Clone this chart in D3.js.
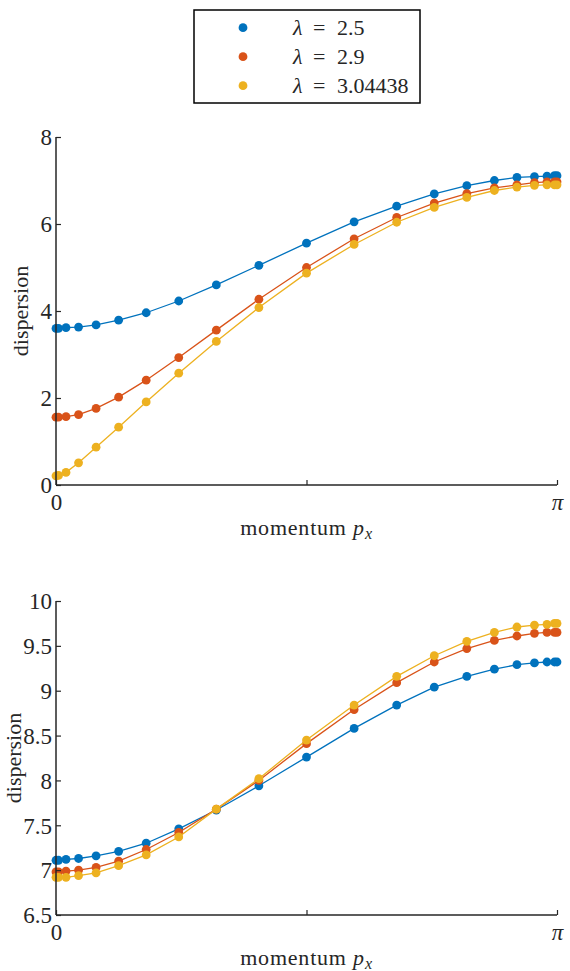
<!DOCTYPE html>
<html>
<head>
<meta charset="utf-8">
<script src="https://cdn.jsdelivr.net/npm/d3@7"></script>
<style>
  html, body { margin: 0; padding: 0; background: #fff; }
  svg { display: block; }
  text { font-family: "Liberation Serif", "Times New Roman", serif; fill: #262626; }
</style>
</head>
<body>
<svg id="chart" width="570" height="971"></svg>
<script>
// Momentum grid: denser sampling near both ends of [0, pi]
const momentum = [0, 0.0157, 0.0628, 0.1414, 0.2513, 0.3927, 0.5655, 0.7697, 1.0053, 1.2723,
                  1.5708, 1.8693, 2.1363, 2.3719, 2.5761, 2.7489, 2.8903, 3.0002, 3.0788, 3.1259, 3.1416];

const lambdas = ["2.5", "2.9", "3.04438"];
const colors = ["#0072BD", "#D95319", "#EDB120"];

// Lower band of the dispersion
const lowerL25 = [3.60, 3.60, 3.62, 3.63, 3.68, 3.79, 3.96, 4.23, 4.60, 5.05, 5.56,
                  6.05, 6.41, 6.69, 6.88, 7.00, 7.07, 7.09, 7.10, 7.11, 7.11];
const lowerL29 = [1.56, 1.56, 1.57, 1.62, 1.76, 2.02, 2.41, 2.93, 3.56, 4.27, 5.00,
                  5.66, 6.15, 6.48, 6.70, 6.83, 6.90, 6.95, 6.97, 6.97, 6.97];
const lowerL304 = [0.21, 0.22, 0.29, 0.51, 0.87, 1.33, 1.91, 2.57, 3.30, 4.08, 4.87,
                   5.53, 6.04, 6.38, 6.61, 6.77, 6.85, 6.89, 6.90, 6.90, 6.90];

// Upper band of the dispersion
const upperL25 = [7.11, 7.11, 7.12, 7.13, 7.16, 7.21, 7.30, 7.46, 7.67, 7.94, 8.26,
                  8.58, 8.84, 9.04, 9.16, 9.24, 9.29, 9.31, 9.32, 9.32, 9.32];
const upperL29 = [6.98, 6.98, 6.99, 7.00, 7.03, 7.10, 7.23, 7.42, 7.68, 8.00, 8.41,
                  8.79, 9.09, 9.32, 9.47, 9.56, 9.61, 9.64, 9.65, 9.65, 9.65];
const upperL304 = [6.92, 6.92, 6.92, 6.94, 6.97, 7.05, 7.17, 7.37, 7.68, 8.02, 8.45,
                   8.84, 9.16, 9.39, 9.55, 9.65, 9.71, 9.73, 9.74, 9.75, 9.75];

const xTicks = [0, Math.PI / 2, Math.PI];
const xTickLabels = ["0", "", "π"];
const lowerTicks = [0, 2, 4, 6, 8];
const upperTicks = [6.5, 7, 7.5, 8, 8.5, 9, 9.5, 10];

const svg = d3.select("#chart");
const ink = "#262626";
const tickFont = 23;
const labelFont = 22;

function panel(cfg) {
  const x = d3.scaleLinear().domain([0, Math.PI]).range([56, 557]);
  const y = d3.scaleLinear().domain(cfg.domain).range([cfg.bottom, cfg.top]);
  const g = svg.append("g");

  // series: line first, then markers, in plotting order
  cfg.series.forEach((vals, i) => {
    const pts = momentum.map((m, j) => [m, vals[j]]);
    const s = g.append("g");
    s.append("path")
      .attr("d", d3.line().x(d => x(d[0])).y(d => y(d[1]))(pts))
      .attr("fill", "none")
      .attr("stroke", colors[i])
      .attr("stroke-width", 1.3);
    s.selectAll("circle").data(pts).join("circle")
      .attr("cx", d => x(d[0])).attr("cy", d => y(d[1]))
      .attr("r", 4.4).attr("fill", colors[i]);
  });

  // x axis (bottom only, ticks pointing inward)
  const xa = g.append("g").attr("transform", `translate(0,${cfg.bottom})`)
    .call(d3.axisBottom(x).tickValues(xTicks).tickSize(-5).tickSizeOuter(0)
      .tickFormat((d, i) => xTickLabels[i]));
  xa.select(".domain").attr("stroke", ink).attr("stroke-width", 1.5)
    .attr("d", `M${x(0)},0H${x(Math.PI)}`);
  xa.selectAll(".tick line").attr("stroke", ink).attr("stroke-width", 1.2);
  xa.selectAll(".tick text").attr("font-size", tickFont).attr("font-family", "Liberation Serif, serif")
    .attr("fill", ink).attr("y", 9).attr("dy", "0.71em")
    .attr("font-style", (d, i) => i === 2 ? "italic" : "normal");

  // y axis (left only, ticks pointing inward)
  const ya = g.append("g").attr("transform", `translate(${x(0)},0)`)
    .call(d3.axisLeft(y).tickValues(cfg.ticks).tickSize(-5).tickSizeOuter(0)
      .tickFormat(d3.format("")));
  ya.select(".domain").attr("stroke", ink).attr("stroke-width", 1.5)
    .attr("d", `M0,${cfg.bottom}V${cfg.top}`);
  ya.selectAll(".tick line").attr("stroke", ink).attr("stroke-width", 1.2);
  ya.selectAll(".tick text").attr("font-size", tickFont).attr("font-family", "Liberation Serif, serif")
    .attr("fill", ink).attr("x", -4).attr("dy", "0.34em");

  // axis labels
  const xl = g.append("text")
    .attr("x", (x(0) + x(Math.PI)) / 2).attr("y", cfg.bottom + 50)
    .attr("text-anchor", "middle").attr("font-size", labelFont)
    .attr("letter-spacing", 0.8);
  xl.append("tspan").text("momentum ");
  xl.append("tspan").attr("font-style", "italic").text("p");
  xl.append("tspan").attr("font-style", "italic").attr("font-size", 16).attr("dy", 4).text("x");

  g.append("text")
    .attr("transform", `translate(${cfg.ylabelX},${(cfg.top + cfg.bottom) / 2}) rotate(-90)`)
    .attr("text-anchor", "middle").attr("font-size", labelFont)
    .text("dispersion");
}

panel({ domain: [0, 8], top: 137, bottom: 485, ticks: lowerTicks,
        series: [lowerL25, lowerL29, lowerL304], ylabelX: 28 });
panel({ domain: [6.5, 10], top: 601, bottom: 915, ticks: upperTicks,
        series: [upperL25, upperL29, upperL304], ylabelX: 21 });

// legend
const lg = svg.append("g");
lg.append("rect").attr("x", 194).attr("y", 10).attr("width", 226).attr("height", 93)
  .attr("fill", "#fff").attr("stroke", "#000").attr("stroke-width", 1.5);
lambdas.forEach((lam, i) => {
  const cy = 27.7 + i * 29;
  lg.append("circle").attr("cx", 243).attr("cy", cy).attr("r", 4.4).attr("fill", colors[i]);
  const t = lg.append("text").attr("y", cy + 7.5).attr("font-size", labelFont);
  t.append("tspan").attr("x", 293).attr("font-style", "italic").text("λ");
  t.append("tspan").attr("x", 313).text("=");
  t.append("tspan").attr("x", 337).text(lam);
});
</script>
</body>
</html>
